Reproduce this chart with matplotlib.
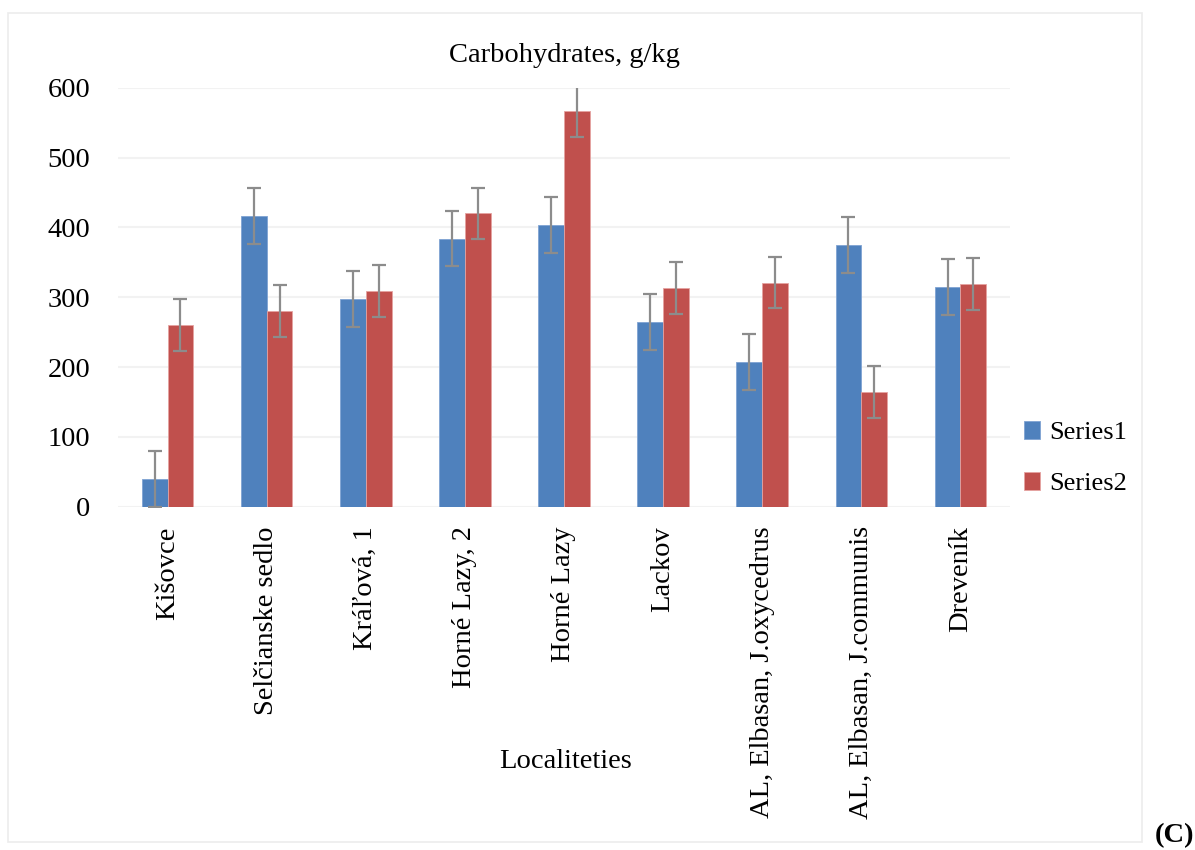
import matplotlib
matplotlib.use("Agg")
import matplotlib.pyplot as plt
import numpy as np
from matplotlib.patches import Rectangle

categories = ["Kišovce", "Selčianske sedlo", "Kráľová, 1", "Horné Lazy, 2", "Horné Lazy",
              "Lackov", "AL, Elbasan, J.oxycedrus", "AL, Elbasan, J.communis", "Dreveník"]
series1 = [40, 416, 297, 384, 403, 264, 207, 375, 315]
series2 = [260, 280, 309, 420, 566, 313, 321, 164, 319]
err1 = [40, 40, 40, 40, 40, 40, 40, 40, 40]
err2 = [37, 37, 37, 37, 37, 37, 37, 37, 37]
series_names = ["Series1", "Series2"]
yticks = [0, 100, 200, 300, 400, 500, 600]

plt.rcParams['font.family'] = ['Liberation Serif', 'DejaVu Serif']
FS = 20.5

fig = plt.figure(figsize=(11.95, 8.5), dpi=100)
# outer chart border
fig.patches.append(Rectangle((8/1195, 1 - 842/850), (1142-8)/1195, (842-13)/850,
                             transform=fig.transFigure, fill=False,
                             edgecolor='#ececec', linewidth=1.2))

ax = fig.add_axes([118/1195, 1 - 506.7/850, (1010-118)/1195, (506.7-87.7)/850])
x = np.arange(len(categories))
w = 0.26
ekw = dict(ecolor='#8c8c8c', elinewidth=1.6, capsize=5, capthick=1.6)
b1 = ax.bar(x - w/2, series1, w, color='#4F81BD', edgecolor='#7fa3d3', linewidth=0.6,
            yerr=err1, error_kw=ekw, label=series_names[0], zorder=2)
b2 = ax.bar(x + w/2, series2, w, color='#C0504D', edgecolor='#e5a3a1', linewidth=0.6,
            yerr=err2, error_kw=ekw, label=series_names[1], zorder=2)

ax.set_xlim(-0.5, len(categories) - 0.5)
ax.set_ylim(0, 600)
ax.set_yticks(yticks)
ax.set_yticklabels([str(v) for v in yticks], fontsize=FS)
ax.grid(axis='y', color='#f2f2f2', linewidth=1.5, zorder=0)
ax.set_axisbelow(True)
for s in ax.spines.values():
    s.set_visible(False)
ax.tick_params(axis='both', length=0)
ax.tick_params(axis='y', pad=20)
ax.set_xticks(x)
ax.set_xticklabels(categories, rotation=90, fontsize=FS, va='top', ha='center')
ax.tick_params(axis='x', pad=14)

fig.text(564/1195, 1 - 56/850, "Carbohydrates, g/kg", ha='center', va='center', fontsize=FS)
fig.text(566/1195, 1 - 761/850, "Localiteties", ha='center', va='center', fontsize=FS)
fig.text(1174/1195, 1 - 836/850, "(C)", ha='center', va='center', fontsize=FS, fontweight='bold')

leg = fig.legend(handles=[b1, b2], labels=series_names, loc='center left',
                 bbox_to_anchor=(1000/1195, 1 - 458/850), frameon=False, fontsize=19,
                 handlelength=0.6, handleheight=0.7, handletextpad=0.35, labelspacing=1.05)

fig.savefig("out.png", dpi=100)
